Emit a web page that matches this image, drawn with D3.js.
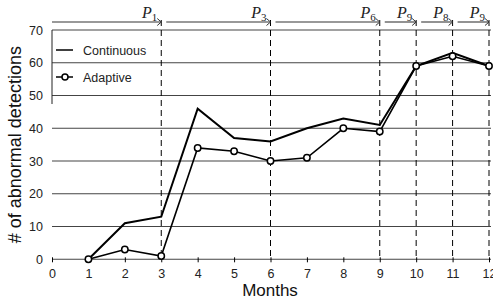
<!DOCTYPE html>
<html><head><meta charset="utf-8">
<script src="https://cdn.jsdelivr.net/npm/d3@7"></script>
<style>body{margin:0;background:#fff}svg{display:block}</style>
</head><body>
<script>
const months = [1,2,3,4,5,6,7,8,9,10,11,12];
const continuous = [0,11,13,46,37,36,40,43,41,59,63,59];
const adaptive = [0,3,1,34,33,30,31,40,39,59,62,59];
const xTicks = [0,1,2,3,4,5,6,7,8,9,10,11,12];
const yTicks = [0,10,20,30,40,50,60,70];
const phaseStarts = [0,3,6,9,10,11];
const phaseEnds = [3,6,9,10,11,12];
const phaseNames = ["P","P","P","P","P","P"];
const phaseSubs = ["1","3","6","9","8","9"];
const dividers = [3,6,9,10,11,12];

const W=493,H=301;
const svg=d3.select("body").append("svg").attr("width",W).attr("height",H);
const x=d3.scaleLinear().domain([0,12]).range([52,489]);
const y=d3.scaleLinear().domain([0,70]).range([259.3,30]);
const sans="'Liberation Sans', Arial, sans-serif";

// grid
svg.append("g").selectAll("line").data(yTicks).join("line")
  .attr("x1",x(0)).attr("x2",x(12)+2).attr("y1",d=>y(d)).attr("y2",d=>y(d))
  .attr("stroke","#444").attr("stroke-width",1.1);

// left partial frame (legend box edge)
svg.append("line").attr("x1",x(0)).attr("x2",x(0)).attr("y1",y(70)).attr("y2",104)
  .attr("stroke","#222").attr("stroke-width",1);

// dashed dividers
svg.append("g").selectAll("line").data(dividers).join("line")
  .attr("x1",d=>x(d)).attr("x2",d=>x(d)).attr("y1",20).attr("y2",y(0))
  .attr("stroke","#000").attr("stroke-width",1).attr("stroke-dasharray","6,4");

// x axis ticks + labels
const xa=svg.append("g").attr("transform",`translate(0,${y(0)})`)
  .call(d3.axisBottom(x).tickValues(xTicks).tickSize(3).tickPadding(7).tickFormat(d3.format("d")));
xa.select(".domain").remove();
xa.selectAll("text").attr("font-family",sans).attr("font-size",12.5).attr("fill","#222");
xa.selectAll("line").attr("stroke","#000").attr("y1",-2);

const ya=svg.append("g").attr("transform",`translate(${x(0)},0)`)
  .call(d3.axisLeft(y).tickValues(yTicks).tickSize(0).tickPadding(9));
ya.select(".domain").remove();
ya.selectAll("text").attr("font-family",sans).attr("font-size",12.5).attr("fill","#222");

// axis titles
svg.append("text").attr("x",270).attr("y",296).attr("text-anchor","middle")
  .attr("font-family",sans).attr("font-size",17).attr("fill","#111").text("Months");
svg.append("text").attr("transform",`translate(21,${(y(0)+y(70))/2}) rotate(-90)`)
  .attr("text-anchor","middle").attr("font-family",sans).attr("font-size",18).attr("fill","#111")
  .text("# of abnormal detections");

// phase arrows
const ph=svg.append("g");
phaseStarts.forEach((s,i)=>{
  const x0 = i===0 ? x(s) : x(s)+5;
  const x1 = x(phaseEnds[i]);
  ph.append("line").attr("x1",x0).attr("x2",x1-1).attr("y1",22).attr("y2",22)
    .attr("stroke","#777").attr("stroke-width",1.6);
  ph.append("path").attr("d",`M${x1-4},18.5 L${x1},22 L${x1-4},25.5`)
    .attr("fill","none").attr("stroke","#333").attr("stroke-width",1);
  const t=ph.append("text").attr("x",x1-4).attr("y",18.3).attr("text-anchor","end")
    .attr("font-family","'Liberation Serif', 'DejaVu Serif', serif").attr("fill","#222");
  t.append("tspan").attr("font-style","italic").attr("font-size",16).text(phaseNames[i]);
  t.append("tspan").attr("font-size",11).attr("dy",3).text(phaseSubs[i]);
});

// series
const line=d3.line().x((d,i)=>x(months[i])).y(d=>y(d));
svg.append("path").datum(continuous).attr("d",line).attr("fill","none")
  .attr("stroke","#000").attr("stroke-width",2).attr("stroke-linejoin","miter");
svg.append("path").datum(adaptive).attr("d",line).attr("fill","none")
  .attr("stroke","#000").attr("stroke-width",1.6);
svg.append("g").selectAll("circle").data(adaptive).join("circle")
  .attr("cx",(d,i)=>x(months[i])).attr("cy",d=>y(d)).attr("r",3.2)
  .attr("fill","#fff").attr("stroke","#000").attr("stroke-width",1.5);

// legend
const lg=svg.append("g");
lg.append("line").attr("x1",56).attr("x2",73).attr("y1",50).attr("y2",50).attr("stroke","#000").attr("stroke-width",1.5);
lg.append("text").attr("x",83).attr("y",54.5).attr("font-family",sans).attr("font-size",12.5).attr("fill","#222").text("Continuous");
lg.append("line").attr("x1",56).attr("x2",73).attr("y1",77).attr("y2",77).attr("stroke","#000").attr("stroke-width",1.5);
lg.append("circle").attr("cx",65).attr("cy",77).attr("r",3).attr("fill","#fff").attr("stroke","#000").attr("stroke-width",1.5);
lg.append("text").attr("x",83).attr("y",81.5).attr("font-family",sans).attr("font-size",12.5).attr("fill","#222").text("Adaptive");
</script>
</body></html>
